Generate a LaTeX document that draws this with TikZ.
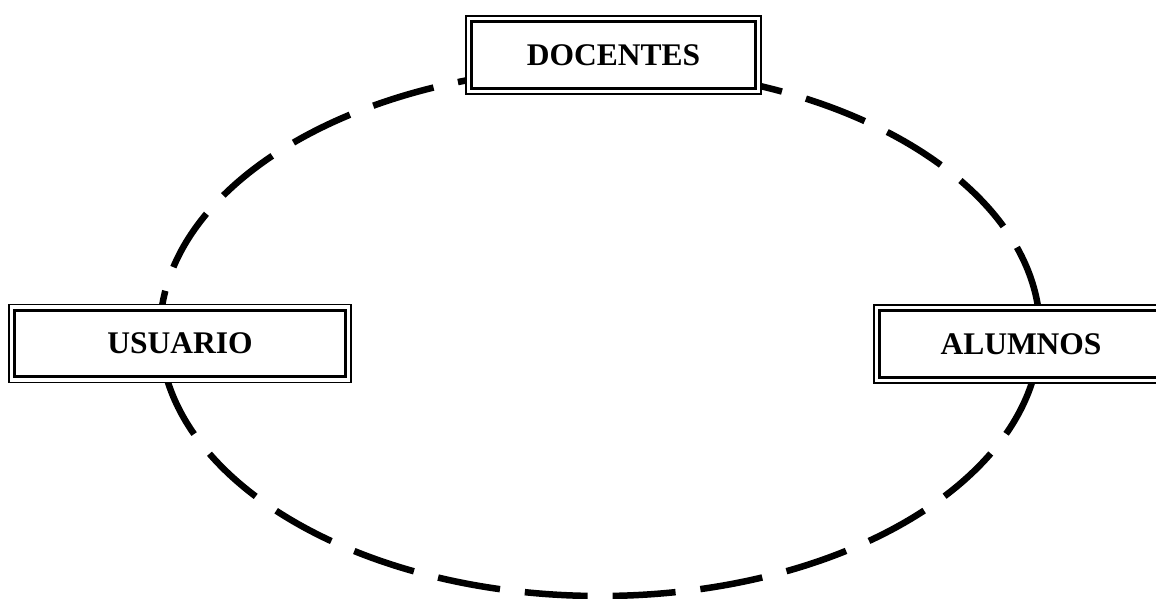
\documentclass[tikz,border=0pt]{standalone}
\usepackage{fontspec}
\setmainfont{Liberation Serif}
\begin{document}
\begin{tikzpicture}[x=1pt,y=-1pt,
  ring/.style={line width=6.5pt, dash pattern=on 63pt off 25pt, dash phase=42pt},
  frame/.style={draw, fill=white, line width=1.4pt, inner sep=0pt,
    minimum height=78pt, font=\fontsize{31.5}{36}\selectfont\bfseries},
  innerframe/.style={line width=3pt}]
  \useasboundingbox (0,0) rectangle (1156,599);
  % dashed ring linking the three roles
  \draw[ring] (600,332) ellipse [x radius=440, y radius=264];
  % role boxes
  \node[frame, minimum width=295pt] (doc) at (613.5,55) {DOCENTES};
  \node[frame, minimum width=342pt] (usu) at (180,343.5) {USUARIO};
  \node[frame, minimum width=294pt] (alu) at (1021,344) {ALUMNOS};
  % inner thick line of each double border
  \foreach \n in {doc,usu,alu}
    \draw[innerframe] ([shift={(6.5pt,-6.5pt)}]\n.north west) rectangle ([shift={(-6.5pt,6.5pt)}]\n.south east);
\end{tikzpicture}
\end{document}
